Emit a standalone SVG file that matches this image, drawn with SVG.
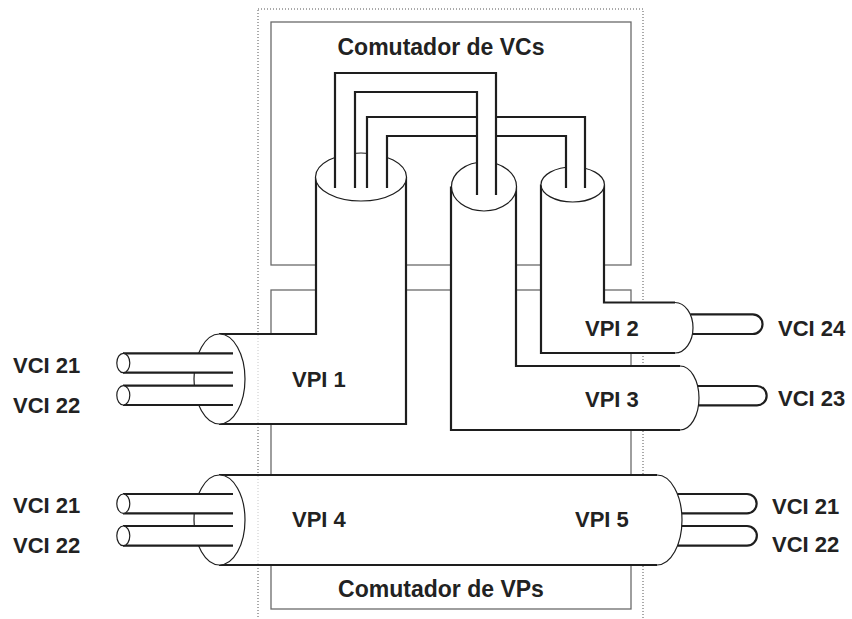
<svg xmlns="http://www.w3.org/2000/svg" width="852" height="619" viewBox="0 0 852 619">
<style>
.box{fill:none;stroke:#6a6a6a;stroke-width:1.3}
.dot{fill:none;stroke:#555;stroke-width:1;stroke-dasharray:1 2}
.dotl{fill:none;stroke:#c8c8c8;stroke-width:1;stroke-dasharray:1 2}
.wf{fill:#fff;stroke:none}
.ln{fill:none;stroke:#1e1e1e;stroke-width:2.2}
.thin{fill:none;stroke:#1e1e1e;stroke-width:1.2}
.ell{fill:#fff;stroke:#1e1e1e;stroke-width:1.2}
.lbl{font-family:"Liberation Sans",Arial,sans-serif;font-weight:bold;font-size:22px;fill:#222}
.ttl{font-size:23px}
</style>
<rect width="852" height="619" fill="#fff"/>
<g id="frame">
<rect class="dot" x="258" y="9" width="385" height="630"/>
</g>
<g id="vc-switch">
<rect class="box" x="271" y="22" width="360" height="243"/>
<text class="lbl ttl" x="441" y="55" text-anchor="middle">Comutador de VCs</text>
</g>
<g id="vp-switch">
<rect class="box" x="271" y="290" width="360" height="319"/>
<text class="lbl ttl" x="441" y="597" text-anchor="middle">Comutador de VPs</text>
</g>
<g id="vpi4-5">
<path class="wf" d="M219,475 H657 A25,45 0 0 1 657,565 H219 Z"/>
<path class="ln" d="M219,475 H657 M219,565 H657"/>
<path class="thin" d="M657,475 A25,45 0 0 1 657,565"/>
<ellipse class="ell" cx="219.5" cy="520" rx="25.5" ry="45"/>
<line class="dotl" x1="258" y1="476" x2="258" y2="564"/>
<rect class="wf" x="123" y="494" width="110" height="19.3"/>
<path class="ln" d="M123,494 H233 M123,513.3 H233"/>
<ellipse class="ell" cx="123.3" cy="503.65" rx="6.5" ry="9.65"/>
<rect class="wf" x="123" y="526" width="110" height="19.7"/>
<path class="ln" d="M123,526 H233 M123,545.7 H233"/>
<ellipse class="ell" cx="123.3" cy="535.85" rx="6.5" ry="9.85"/>
<path class="ln" d="M677.4,494 H747 A9.65,9.65 0 0 1 747,513.3 H681.7"/>
<path class="ln" d="M681.7,526 H747 A9.85,9.85 0 0 1 747,545.7 H677.4"/>
<text class="lbl" x="292" y="527">VPI 4</text>
<text class="lbl" x="575" y="527">VPI 5</text>
<text class="lbl" x="13" y="513">VCI 21</text>
<text class="lbl" x="13" y="553">VCI 22</text>
<text class="lbl" x="772" y="514">VCI 21</text>
<text class="lbl" x="772" y="552">VCI 22</text>
</g>
<g id="vpi1">
<path class="wf" d="M316,177 V334 H219 V424 H406 V177 Z"/>
<path class="ln" d="M316,177 V334 H219 M219,424 H406 V177"/>
<ellipse class="ell" cx="361" cy="177" rx="45.5" ry="24"/>
<ellipse class="ell" cx="219.5" cy="379" rx="25.5" ry="45"/>
<line class="dotl" x1="258" y1="335" x2="258" y2="423"/>
<rect class="wf" x="123" y="353.3" width="110" height="19.4"/>
<path class="ln" d="M123,353.3 H233 M123,372.7 H233"/>
<ellipse class="ell" cx="123.3" cy="363" rx="6.5" ry="9.7"/>
<rect class="wf" x="123" y="385.7" width="110" height="19.3"/>
<path class="ln" d="M123,385.7 H233 M123,405 H233"/>
<ellipse class="ell" cx="123.3" cy="395.35" rx="6.5" ry="9.65"/>
<text class="lbl" x="292" y="387">VPI 1</text>
<text class="lbl" x="13" y="373">VCI 21</text>
<text class="lbl" x="13" y="413">VCI 22</text>
</g>
<g id="vpi3">
<path class="wf" d="M451,186.5 V430 H680 A19,32 0 0 0 680,366 H516 V186.5 Z"/>
<path class="ln" d="M451,186.5 V430 H680 M680,366 H516 V186.5"/>
<path class="thin" d="M680,366 A19,32 0 0 1 680,430"/>
<ellipse class="ell" cx="484" cy="186.5" rx="32.5" ry="24.5"/>
<path class="ln" d="M697.6,386 H757 A9.65,9.65 0 0 1 757,405.3 H698.5"/>
<text class="lbl" x="585" y="407">VPI 3</text>
<text class="lbl" x="778" y="406">VCI 23</text>
</g>
<g id="vpi2">
<path class="wf" d="M541,184.5 V353 H675 A18,25.25 0 0 0 675,302.5 H604 V184.5 Z"/>
<path class="ln" d="M541,184.5 V353 H675 M675,302.5 H604 V184.5"/>
<path class="thin" d="M675,302.5 A18,25.25 0 0 1 675,353"/>
<ellipse class="ell" cx="572.7" cy="184.5" rx="31.7" ry="17.5"/>
<path class="ln" d="M690.3,314.3 H752.7 A9.85,9.85 0 0 1 752.7,334 H692.5"/>
<text class="lbl" x="585" y="336">VPI 2</text>
<text class="lbl" x="778" y="336">VCI 24</text>
</g>
<g id="connectors">
<g id="vc-vpi1-vpi2">
<path class="wf" d="M367,188 V117 H585 V188 H566 V136 H387 V188 Z"/>
<path class="ln" d="M367,188 V117 H585 V188 M387,188 V136 H566 V188"/>
</g>
<g id="vc-vpi1-vpi3">
<path class="wf" d="M335,188 V73 H496 V195 H477 V92 H355 V188 Z"/>
<path class="ln" d="M335,188 V73 H496 V195 M355,188 V92 H477 V195"/>
</g>
</g>
</svg>
